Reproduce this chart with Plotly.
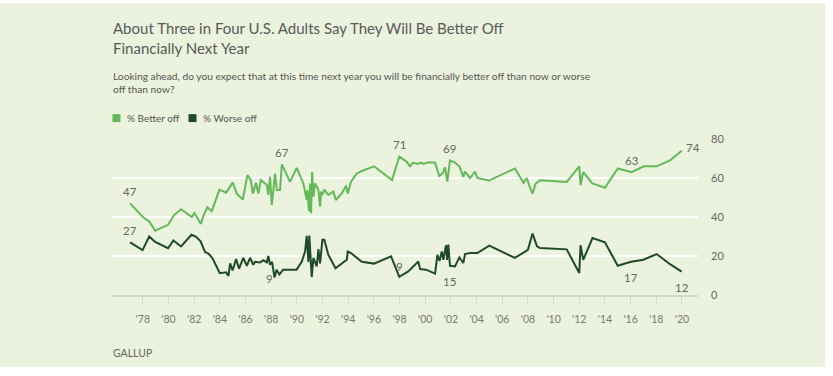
import plotly.graph_objects as go

# ---------------- data ----------------
better_years = [1977.01, 1978.0, 1978.5, 1978.96, 1979.97, 1980.44, 1980.98, 1981.82, 1982.02, 1982.52,
                1982.72, 1983.03, 1983.37, 1983.97, 1984.49, 1985.01, 1985.32, 1985.79, 1986.15, 1986.41,
                1986.57, 1986.82, 1987.0, 1987.19, 1987.66, 1987.78, 1987.91, 1988.05, 1988.3, 1988.44,
                1988.69, 1988.83, 1989.47, 1989.99, 1990.51, 1990.77, 1990.82, 1990.95, 1991.03, 1991.11,
                1991.19, 1991.29, 1991.42, 1991.68, 1991.81, 1991.89, 1991.99, 1992.14, 1992.45, 1992.84,
                1993.03, 1993.5, 1993.83, 1993.97, 1994.22, 1994.67, 1995.06, 1996.01, 1997.42, 1997.98,
                1998.56, 1998.82, 1999.03, 1999.39, 1999.65, 1999.85, 2000.17, 2000.77, 2001.1, 2001.36,
                2001.54, 2001.72, 2001.93, 2002.32, 2002.66, 2002.97, 2003.1, 2003.49, 2003.88, 2004.06,
                2004.97, 2006.99, 2007.66, 2007.91, 2008.09, 2008.36, 2008.59, 2008.94, 2011.02, 2012.0,
                2012.1, 2012.31, 2013.02, 2014.0, 2015.0, 2016.08, 2017.04, 2018.03, 2019.07, 2019.98]
better_values = [47, 40, 37.7, 33, 36, 41, 44, 40, 42, 36.5,
                 40.6, 45, 43, 54, 52.5, 57.6, 52, 49, 61.5, 59,
                 52, 57.6, 52, 59, 56.4, 51.3, 60.6, 46.2, 62.3, 53.8,
                 53.8, 67, 58, 65.2, 57.2, 48.7, 53.8, 42.8, 57.2, 41.9,
                 63, 50.4, 57.2, 53.8, 45.3, 53, 51.3, 54, 51.3, 53,
                 48.7, 52.1, 56, 52.1, 58.1, 62.3, 63.6, 66, 58.9, 71,
                 68.3, 66, 67.9, 67.2, 67.9, 67.2, 67.9, 67.9, 61, 62.5,
                 65.4, 58.1, 69, 67.9, 66, 60.6, 63.3, 60, 63.3, 60,
                 58.7, 64.9, 57.5, 60, 56.4, 52, 57, 58.9, 58, 66,
                 56.4, 63, 57.2, 55, 64.9, 63, 66, 66, 69, 74]

worse_years = [1977.01, 1977.98, 1978.5, 1978.96, 1979.97, 1980.38, 1980.98, 1981.79, 1982.13, 1982.5,
               1982.85, 1983.11, 1983.42, 1984.0, 1984.49, 1984.67, 1984.8, 1984.99, 1985.27, 1985.5,
               1985.83, 1986.1, 1986.36, 1986.61, 1986.75, 1987.14, 1987.39, 1987.66, 1987.78, 1987.91,
               1988.07, 1988.26, 1988.42, 1988.64, 1988.93, 1989.98, 1990.38, 1990.64, 1990.77, 1990.9,
               1990.97, 1991.08, 1991.16, 1991.29, 1991.55, 1991.68, 1991.81, 1991.99, 1992.14, 1992.45,
               1993.01, 1993.89, 1993.97, 1994.22, 1994.67, 1995.06, 1996.01, 1997.34, 1997.98, 1998.68,
               1999.46, 1999.6, 2000.06, 2000.77, 2000.95, 2001.12, 2001.29, 2001.41, 2001.62, 2001.7,
               2001.8, 2001.93, 2002.32, 2002.66, 2002.97, 2003.1, 2003.49, 2004.06, 2004.99, 2006.99,
               2008.0, 2008.36, 2008.71, 2008.94, 2011.02, 2012.0, 2012.1, 2012.31, 2013.03, 2014.0,
               2015.0, 2016.03, 2017.0, 2018.03, 2019.07, 2019.98]
worse_values = [27, 23, 30, 27.2, 24, 28, 24.9, 30.9, 30, 27.5,
                22, 21.2, 19, 11.2, 11.6, 9.8, 16.2, 12.6, 18.4, 13.5,
                19, 15, 19, 15.5, 17, 16.7, 17.8, 16.7, 20, 15.5,
                17, 9, 13, 10.5, 13, 13, 17, 22.3, 30.3, 17,
                30.5, 19, 9.2, 19, 14.7, 23.5, 16.2, 28.3, 28.3, 20.7,
                13.7, 18.1, 22.3, 21.5, 19, 17, 16.1, 19.8, 9.3, 12.1,
                17.2, 13.3, 13, 11, 20.6, 17.5, 22.3, 18, 25.6, 18,
                25.8, 15, 14.7, 19.3, 16.4, 21, 21.5, 21.5, 25.3, 19,
                23.2, 31.5, 25, 24.1, 23.4, 11.3, 25.5, 18, 29.2, 27,
                15, 17, 18.1, 21, 15.8, 12]

tick_years = [1978, 1980, 1982, 1984, 1986, 1988, 1990, 1992, 1994, 1996, 1998,
              2000, 2002, 2004, 2006, 2008, 2010, 2012, 2014, 2016, 2018, 2020]
tick_labels = ["'78", "'80", "'82", "'84", "'86", "'88", "'90", "'92", "'94", "'96", "'98",
               "'00", "'02", "'04", "'06", "'08", "'10", "'12", "'14", "'16", "'18", "'20"]

y_ticks = [0, 20, 40, 60, 80]

better_label_years = [1977.01, 1988.83, 1997.98, 2001.93, 2016.08, 2019.98]
better_label_values = [47, 67, 71, 69, 63, 74]
worse_label_years = [1977.01, 1988.26, 1997.98, 2001.93, 2016.03, 2019.98]
worse_label_values = [27, 9, 9, 15, 17, 12]

title_text = "About Three in Four U.S. Adults Say They Will Be Better Off<br>Financially Next Year"
subtitle_text = ("Looking ahead, do you expect that at this time next year you will be financially better off than now or worse"
                 "<br>off than now?")
series_names = ["% Better off", "% Worse off"]

# ---------------- styling ----------------
BG = "#ebf2dd"
C_BETTER = "#62b957"
C_WORSE = "#1f4a2a"
GREY = "#666666"
FONT = "Lato"

W, H = 833, 376
L, R, T, B = 112, 698, 138.5, 295.5


def px(x):
    return (x - L) / (R - L)


def py(y):
    return (B - y) / (B - T)


fig = go.Figure()
fig.add_trace(go.Scatter(x=better_years, y=better_values, mode="lines", name=series_names[0],
                         line=dict(color=C_BETTER, width=2), showlegend=False, hoverinfo="x+y"))
fig.add_trace(go.Scatter(x=worse_years, y=worse_values, mode="lines", name=series_names[1],
                         line=dict(color=C_WORSE, width=2), showlegend=False, hoverinfo="x+y"))

shapes = [
    dict(type="rect", xref="paper", yref="paper", x0=px(0), x1=px(825), y0=py(368), y1=py(2),
         fillcolor=BG, line=dict(width=0), layer="below"),
    dict(type="rect", xref="paper", yref="paper", x0=px(112.5), x1=px(120.5), y0=py(121.5), y1=py(113.5),
         fillcolor=C_BETTER, line=dict(width=0)),
    dict(type="rect", xref="paper", yref="paper", x0=px(188.5), x1=px(196.5), y0=py(121.5), y1=py(113.5),
         fillcolor=C_WORSE, line=dict(width=0)),
]

annotations = [
    dict(xref="paper", yref="paper", x=px(111), y=py(16), xanchor="left", yanchor="top", align="left",
         text=title_text, showarrow=False, font=dict(family=FONT, size=15, color="#58595b")),
    dict(xref="paper", yref="paper", x=px(111), y=py(67), xanchor="left", yanchor="top", align="left",
         text=subtitle_text, showarrow=False, font=dict(family=FONT, size=10.2, color="#555555")),
    dict(xref="paper", yref="paper", x=px(124.5), y=py(117.5), xanchor="left", yanchor="middle",
         text=series_names[0], showarrow=False, font=dict(family=FONT, size=10, color="#555555")),
    dict(xref="paper", yref="paper", x=px(200.5), y=py(117.5), xanchor="left", yanchor="middle",
         text=series_names[1], showarrow=False, font=dict(family=FONT, size=10, color="#555555")),
    dict(xref="paper", yref="paper", x=px(111), y=py(354), xanchor="left", yanchor="middle",
         text="GALLUP", showarrow=False, font=dict(family=FONT, size=10.5, color="#666666")),
]

for i, (xv, yv) in enumerate(zip(better_label_years, better_label_values)):
    xs, ys = 0, 12
    if i == len(better_label_years) - 1:
        xs, ys = 11, 3
    annotations.append(dict(x=xv, y=yv, text=str(yv), showarrow=False, xshift=xs, yshift=ys,
                            font=dict(family=FONT, size=11.5, color=GREY)))
for i, (xv, yv) in enumerate(zip(worse_label_years, worse_label_values)):
    if i == 0:
        xs, ys = 0, 12
    elif i == 1:
        xs, ys = -5, -1
    elif i == 2:
        xs, ys = 0, 11
    else:
        xs, ys = 0, -15.5
    annotations.append(dict(x=xv, y=yv, text=str(yv), showarrow=False, xshift=xs, yshift=ys,
                            font=dict(family=FONT, size=11.5, color=GREY)))

fig.update_layout(
    width=W, height=H,
    margin=dict(l=L, r=W - R, t=T, b=H - B, pad=0),
    paper_bgcolor="white",
    plot_bgcolor="rgba(0,0,0,0)",
    showlegend=False,
    shapes=shapes,
    annotations=annotations,
    font=dict(family=FONT, color=GREY),
    xaxis=dict(range=[1975.6, 2021.25], tickmode="array", tickvals=tick_years, ticktext=tick_labels,
               showgrid=False, zeroline=False, showline=True, linecolor="#d3d9cc", linewidth=1.5,
               ticks="outside", ticklen=8, tickcolor="#d3d9cc", tickwidth=1,
               tickfont=dict(family=FONT, size=10.5, color="#777777"), ticklabelstandoff=6,
               fixedrange=True),
    yaxis=dict(range=[0, 80], side="right", tickvals=y_ticks, showgrid=True, gridcolor="white",
               gridwidth=2, zeroline=False, showline=False, ticks="",
               tickfont=dict(family=FONT, size=11, color="#666666"), ticklabelstandoff=12,
               fixedrange=True),
)

fig.write_html("out.html", config={"displayModeBar": False},
               post_script="document.body.style.margin='0px';document.body.style.padding='0px';")
